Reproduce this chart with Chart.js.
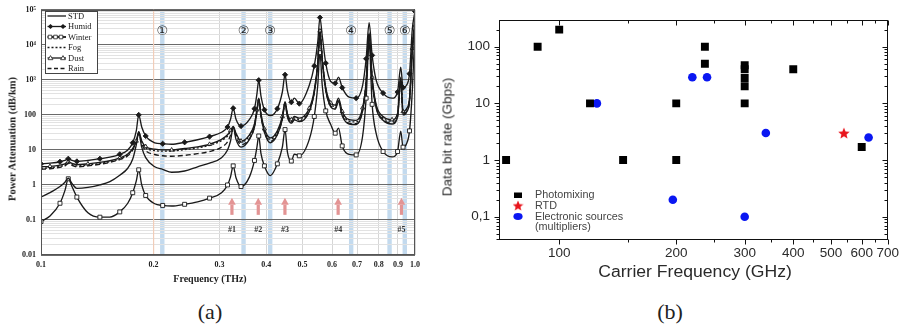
<!DOCTYPE html>
<html><head><meta charset="utf-8">
<script src="https://cdn.jsdelivr.net/npm/chart.js@4.4.1/dist/chart.umd.min.js"></script>
<style>
html,body{margin:0;padding:0;background:#fff;}
body{width:905px;height:327px;position:relative;overflow:hidden;}
#wa{position:absolute;left:0;top:0;width:425px;height:292px;}
#wb{position:absolute;left:430px;top:0;width:475px;height:290px;}
.t{position:absolute;white-space:nowrap;transform:translate(-50%,-50%);line-height:1;}
</style></head><body>
<div id="wa"><canvas id="ca" width="425" height="292"></canvas></div>
<div id="wb"><canvas id="cb" width="475" height="290"></canvas></div>
<div class="t" style="left:12px;top:139px;transform:translate(-50%,-50%) rotate(-90deg);font:bold 10.5px 'Liberation Serif';color:#222">Power Attenuation (dB/km)</div>
<div class="t" style="left:210px;top:278px;font:bold 10px 'Liberation Serif';color:#222">Frequency (THz)</div>
<div class="t" style="left:447px;top:137px;transform:translate(-50%,-50%) rotate(-90deg);font:13.5px 'Liberation Sans';color:#2a2a2a">Data bit rate (Gbps)</div>
<div class="t" style="left:695px;top:272px;transform:translate(-50%,-50%) scaleX(1.1);font:16px 'Liberation Sans';color:#2a2a2a">Carrier Frequency (GHz)</div>
<div class="t" style="left:210px;top:312px;font:22px 'Liberation Serif';color:#222">(a)</div>
<div class="t" style="left:670px;top:312px;font:22px 'Liberation Serif';color:#222">(b)</div>
<script>
// ---------- Panel (a) data ----------
const FREQ_THZ = [0.1000,0.1057,0.1124,0.1159,0.1183,0.1210,0.1247,0.1335,0.1437,0.1528,
  0.1624,0.1706,0.1759,0.1798,0.1825,0.1859,0.1905,0.2014,0.2115,0.2235,
  0.2421,0.2622,0.2823,0.3039,0.3153,0.3212,0.3265,0.3322,0.3426,0.3609,
  0.3722,0.3779,0.3821,0.3873,0.3957,0.4105,0.4285,0.4419,0.4493,0.4557,
  0.4670,0.4757,0.4905,0.5216,0.5379,0.5495,0.5570,0.5649,0.5772,0.5952,
  0.6119,0.6244,0.6388,0.6668,0.6961,0.7244,0.7402,0.7539,0.7680,0.7870,
  0.8216,0.8683,0.8981,0.9160,0.9290,0.9492,0.9668,0.9836,1.0000];
const STD = [0.45,0.6,0.9,1.2,1.55,1.1,0.8,0.85,1.0,1.25,
  1.9,3.0,5.5,14,32,12,6,3.3,2.8,2.3,
  2.5,3.3,4.2,6,10,18,45,20,12,20,
  45,125,275,95,32,16,27,75,215,90,
  58,72,64,125,430,2700,22000,3500,500,170,
  145,240,95,55,53,130,780,19000,950,160,
  70,55,85,950,100,120,245,6800,50000];
const HUMID = [4.0,4.2,4.6,5.0,5.6,5.0,4.7,5.0,5.6,6.2,
  7.5,10,16,35,100,45,25,16,15,14.5,
  16.5,19.5,24,32,45,75,155,75,48,75,
  150,400,980,350,140,95,150,450,1400,500,
  230,300,210,700,2500,12000,60000,18000,3000,900,
  800,1200,600,320,300,700,4000,43000,5000,1000,
  420,300,450,2300,600,700,1500,28000,90000];
const WINTER = [0.09,0.13,0.3,0.7,1.5,0.9,0.45,0.16,0.12,0.12,
  0.17,0.3,0.6,1.3,2.7,1.0,0.5,0.29,0.26,0.25,
  0.28,0.33,0.42,0.6,1.0,1.7,3.5,1.6,0.9,1.7,
  5,12,25,8,3.5,1.85,4,12,38,9,
  4.8,7.6,6.8,20,90,700,6000,700,130,53,
  30,42,13,7.5,7.2,25,300,12000,200,30,
  9,6.3,9,34,12,15,35,500,30000];
const FOG = [3.0,3.1,3.4,3.7,4.3,3.8,3.5,3.7,4.1,4.6,
  5.6,7.2,10.5,17,31,17,11.5,9.6,9.2,9.3,
  10.2,11.4,13.5,18.5,25,34,45,28,17,25,
  52,135,290,105,37,20,32,85,230,100,
  66,82,74,145,470,2900,24000,3800,560,200,
  175,280,115,66,63,150,850,21000,1100,185,
  82,66,100,1100,115,140,280,7500,58000];
const DUST = [3.3,3.4,3.7,4.0,4.6,4.1,3.8,4.0,4.4,4.9,
  5.9,7.6,11,18,33,18,12.5,10.5,10,10,
  11,12.2,14.5,20,27,36,47,30,18,27,
  55,140,300,110,40,22,35,90,240,110,
  73,90,81,155,500,3000,25000,4000,600,220,
  190,300,125,73,70,160,900,22000,1200,200,
  90,73,110,1200,125,150,300,8000,60000];
const RAIN = [2.8,2.9,3.2,3.5,4.1,3.6,3.3,3.5,3.9,4.4,
  5.3,6.8,10,16.5,30,15,9.5,7.4,6.8,6.6,
  7.0,7.8,9.0,12,17,26,42,24,14,21,
  46,125,280,95,33,17.5,28,78,220,92,
  60,74,66,130,440,2800,23000,3600,520,180,
  155,250,100,58,56,135,800,20000,1000,170,
  74,58,90,1000,105,125,255,7000,55000];
const SERIES_NAMES_A = ['STD','Humid','Winter','Fog','Dust','Rain'];
const WINDOW_FREQS = [0.211,0.348,0.41,0.675,0.855,0.939];
const WINDOW_LABELS = ['\u2460','\u2461','\u2462','\u2463','\u2464','\u2465'];
const TX_FREQS = [0.324,0.381,0.449,0.623,0.92];
const TX_LABELS = ['#1','#2','#3','#4','#5'];
const X_TICK_VALUES_A = [0.1,0.2,0.3,0.4,0.5,0.6,0.7,0.8,0.9,1.0];
const X_TICK_LABELS_A = ['0.1','0.2','0.3','0.4','0.5','0.6','0.7','0.8','0.9','1.0'];
const Y_TICK_VALUES_A = [0.01,0.1,1,10,100,1e3,1e4,1e5];
const Y_TICK_LABELS_A = ['0.01','0.1','1','10','100','10\u00B3','10\u2074','10\u2075'];

// ---------- Panel (b) data ----------
const PHOTO_FREQ = [73,88,100,120,146,200,200,237,237,300,300,300,300,300,400,600];
const PHOTO_RATE = [1,100,200,10,1,10,1,100,50,47,40,28,20,10,40,1.7];
const RTD_FREQ = [540];
const RTD_RATE = [3];
const ELEC_FREQ = [125,220,240,340,625,196,300];
const ELEC_RATE = [10,29,29,3,2.5,0.2,0.1];
const X_TICK_VALUES_B = [100,200,300,400,500,600,700];
const X_TICK_LABELS_B = ['100','200','300','400','500','600','700'];
const X_MINOR_B = [150,250,350,450,550,650];
const Y_TICK_VALUES_B = [0.1,1,10,100];
const Y_TICK_LABELS_B = ['0,1','1','10','100'];

// ---------- helpers ----------
function sameLog(a,b){return Math.abs(Math.log10(a)-Math.log10(b))<1e-6;}
function labelFor(v,vals,labels){for(let i=0;i<vals.length;i++){if(sameLog(v,vals[i]))return labels[i];}return '';}
function isDecade(v){const l=Math.log10(v);return Math.abs(l-Math.round(l))<1e-6;}
function logGrid(lo,hi){const out=[];for(let e=lo;e<hi;e++){for(let m=1;m<10;m++){out.push(+(m*Math.pow(10,e)).toPrecision(6));}}out.push(Math.pow(10,hi));return out;}
const every=(n,off,r)=>c=>(c.dataIndex%n===off?r:0);
const INK='#1a1a1a';
function pts(arr){return FREQ_THZ.map((f,i)=>({x:f,y:arr[i]}));}
function ds(label,arr,extra){return Object.assign({label,data:pts(arr),borderColor:INK,borderWidth:1.35,pointRadius:0,fill:false,cubicInterpolationMode:'monotone',pointBorderColor:INK,pointBackgroundColor:INK,pointBorderWidth:0.9},extra||{});}

function drawMarker(ctx,style,x,y,r,filled){
  ctx.beginPath();
  if(style==='diamond'){ctx.moveTo(x,y-r);ctx.lineTo(x+r,y);ctx.lineTo(x,y+r);ctx.lineTo(x-r,y);ctx.closePath();}
  else if(style==='square'){ctx.rect(x-r*0.75,y-r*0.75,r*1.5,r*1.5);}
  else if(style==='triangle'){ctx.moveTo(x,y-r);ctx.lineTo(x+r,y+r*0.7);ctx.lineTo(x-r,y+r*0.7);ctx.closePath();}
  if(filled){ctx.fillStyle=INK;ctx.fill();}else{ctx.fillStyle='#fff';ctx.fill();ctx.lineWidth=0.8;ctx.strokeStyle=INK;ctx.stroke();}
}

const panelA={
  id:'panelA',
  beforeDraw(chart){
    const {ctx,chartArea:a,scales:{x}}=chart;
    ctx.save();
    ctx.fillStyle='#c3daee';
    WINDOW_FREQS.forEach(f=>{const p=x.getPixelForValue(f);ctx.fillRect(p-2.2,a.top,4.4,a.bottom-a.top);});
    ctx.restore();
  },
  beforeDatasetsDraw(chart){
    const {ctx,chartArea:a,scales:{x}}=chart;
    ctx.save();
    ctx.strokeStyle='#f1cdb9';ctx.lineWidth=1.2;
    const p=x.getPixelForValue(0.2);ctx.beginPath();ctx.moveTo(p,a.top);ctx.lineTo(p,a.bottom);ctx.stroke();
    ctx.restore();
  },
  afterDatasetsDraw(chart){
    const {ctx,chartArea:a,scales:{x,y}}=chart;
    ctx.save();
    ctx.strokeStyle='#555';ctx.lineWidth=1;
    ctx.strokeRect(Math.round(a.left)+0.5,Math.round(a.top)+0.5,Math.round(a.right-a.left)-1,Math.round(a.bottom-a.top)-1);
    ctx.fillStyle='#222';ctx.font="13px 'DejaVu Sans'";ctx.textAlign='center';ctx.textBaseline='middle';
    WINDOW_FREQS.forEach((f,i)=>ctx.fillText(WINDOW_LABELS[i],x.getPixelForValue(f),a.top+22));
    const yb=y.getPixelForValue(0.14), yt=y.getPixelForValue(0.43), yh=yt+7;
    ctx.fillStyle='#e39494';
    TX_FREQS.forEach(f=>{const p=x.getPixelForValue(f);
      ctx.fillRect(p-1.6,yh,3.2,yb-yh);
      ctx.beginPath();ctx.moveTo(p-3.8,yh);ctx.lineTo(p+3.8,yh);ctx.lineTo(p,yt);ctx.closePath();ctx.fill();});
    ctx.fillStyle='#333';ctx.font="bold 8px 'Liberation Serif'";
    TX_FREQS.forEach((f,i)=>ctx.fillText(TX_LABELS[i],x.getPixelForValue(f),y.getPixelForValue(0.052)));
    const L={x:45.5,y:11.5,w:52,h:62};
    ctx.fillStyle='#fff';ctx.fillRect(L.x,L.y,L.w,L.h);
    ctx.strokeStyle='#444';ctx.lineWidth=1;ctx.strokeRect(L.x,L.y,L.w,L.h);
    ctx.font="8.5px 'Liberation Serif'";ctx.textAlign='left';ctx.textBaseline='middle';
    SERIES_NAMES_A.forEach((name,i)=>{
      const ry=16+i*10.5;
      ctx.strokeStyle=INK;ctx.lineWidth=(name==='Winter')?1.8:1.3;
      ctx.setLineDash(name==='Fog'?[2,2]:name==='Rain'?[4,2.5]:[]);
      ctx.beginPath();ctx.moveTo(47.5,ry);ctx.lineTo(66,ry);ctx.stroke();ctx.setLineDash([]);
      if(name==='Humid'){drawMarker(ctx,'diamond',50.5,ry,2.6,true);drawMarker(ctx,'diamond',63,ry,2.6,true);}
      if(name==='Winter'){[50,55.5,61].forEach(px=>drawMarker(ctx,'square',px,ry,2.4,false));}
      if(name==='Dust'){drawMarker(ctx,'triangle',50.5,ry,2.4,false);drawMarker(ctx,'triangle',63,ry,2.4,false);}
      ctx.fillStyle='#222';ctx.fillText(name,68,ry+0.5);
    });
    ctx.restore();
  }
};

const fontA={family:'Liberation Serif',size:8,weight:'bold'};
new Chart(document.getElementById('ca'),{
  type:'line',
  data:{datasets:[
    ds('STD',STD),
    ds('Humid',HUMID,{pointStyle:'rectRot',pointRadius:every(2,0,2.6)}),
    ds('Winter',WINTER,{pointStyle:'rect',pointRadius:every(2,0,2.8),pointBackgroundColor:'#fff'}),
    ds('Fog',FOG,{borderDash:[2,2]}),
    ds('Dust',DUST,{pointStyle:'triangle',pointRadius:every(3,1,2.4),pointBackgroundColor:'#fff'}),
    ds('Rain',RAIN,{borderDash:[5,3]})
  ]},
  options:{
    responsive:false,animation:false,events:[],devicePixelRatio:1,
    layout:{padding:{top:7,right:9,left:0,bottom:0},autoPadding:false},
    plugins:{legend:{display:false},tooltip:{enabled:false}},
    scales:{
      x:{type:'logarithmic',min:0.1,max:1.0,
        afterFit:s=>{s.height=37;},
        afterBuildTicks:s=>{s.ticks=X_TICK_VALUES_A.map(v=>({value:v}));},
        grid:{color:'#d6d6d6',lineWidth:1,drawTicks:false},border:{display:false},
        ticks:{autoSkip:false,maxRotation:0,minRotation:0,padding:5,font:fontA,color:'#222',
          callback:v=>labelFor(v,X_TICK_VALUES_A,X_TICK_LABELS_A)}},
      y:{type:'logarithmic',min:0.01,max:1e5,
        afterFit:s=>{s.width=41;},
        afterBuildTicks:s=>{s.ticks=logGrid(-2,5).map(v=>({value:v}));},
        grid:{color:c=>(c.tick&&isDecade(c.tick.value))?'#6a6a6a':'#e2e2e2',lineWidth:1,drawTicks:false},border:{display:false},
        ticks:{autoSkip:false,padding:5,font:fontA,color:'#222',
          callback:v=>labelFor(v,Y_TICK_VALUES_A,Y_TICK_LABELS_A)}}
    }
  },
  plugins:[panelA]
});

// ---------- Panel (b) ----------
function starCanvas(size,color){
  const c=document.createElement('canvas');c.width=c.height=size;const g=c.getContext('2d');
  g.fillStyle=color;g.beginPath();const cx=size/2,cy=size/2+0.6,R=size/2,r=R*0.45;
  for(let i=0;i<10;i++){const ang=-Math.PI/2+i*Math.PI/5;const rr=i%2?r:R;g.lineTo(cx+rr*Math.cos(ang),cy+rr*Math.sin(ang));}
  g.closePath();g.fill();return c;
}
const STAR=starCanvas(12,'#e8141c');
const BLUE='#0a17f2';

const panelB={
  id:'panelB',
  afterDraw(chart){
    const {ctx,chartArea:a,scales:{x,y}}=chart;
    ctx.save();
    ctx.strokeStyle='#111';ctx.lineWidth=1;
    const L=Math.round(a.left)+0.5,R=Math.round(a.right)-0.5,T=Math.round(a.top)+0.5,B=Math.round(a.bottom)+0.5;
    ctx.strokeRect(L,T,R-L,B-T);
    ctx.beginPath();
    const xt=(v,len)=>{const p=Math.round(x.getPixelForValue(v))+0.5;ctx.moveTo(p,B);ctx.lineTo(p,B+len);ctx.moveTo(p,T);ctx.lineTo(p,T+len);};
    X_TICK_VALUES_B.forEach(v=>xt(v,5));X_MINOR_B.forEach(v=>xt(v,3));
    const yt=(v,len)=>{const p=Math.round(y.getPixelForValue(v))+0.5;ctx.moveTo(L,p);ctx.lineTo(L-len,p);ctx.moveTo(R,p);ctx.lineTo(R-len,p);};
    for(let e=-2;e<=2;e++){for(let m=1;m<10;m++){const v=m*Math.pow(10,e);if(v<y.min||v>y.max)continue;yt(v,m===1?5:3);}}
    ctx.stroke();
    ctx.fillStyle='#000';ctx.fillRect(84,192.5,8,5.5);
    ctx.drawImage(STAR,82.5,200,11,11);
    ctx.fillStyle=BLUE;ctx.beginPath();ctx.ellipse(88,216.5,4.6,3.4,0,0,Math.PI*2);ctx.fill();
    ctx.fillStyle='#444';ctx.font="10.8px 'Liberation Sans'";ctx.textAlign='left';ctx.textBaseline='middle';
    ctx.fillText('Photomixing',105,195);
    ctx.fillText('RTD',105,205.7);
    ctx.fillText('Electronic sources',105,216.7);
    ctx.fillText('(multipliers)',105,227);
    ctx.restore();
  }
};

const fontB={family:'Liberation Sans',size:13.5};
new Chart(document.getElementById('cb'),{
  type:'scatter',
  data:{datasets:[
    {label:'Photomixing',data:PHOTO_FREQ.map((f,i)=>({x:f,y:PHOTO_RATE[i]})),pointStyle:'rect',pointRadius:5.6,pointBackgroundColor:'#000',pointBorderColor:'#000',pointBorderWidth:0},
    {label:'RTD',data:RTD_FREQ.map((f,i)=>({x:f,y:RTD_RATE[i]})),pointStyle:STAR,pointRadius:6,pointBorderWidth:0},
    {label:'Electronic sources (multipliers)',data:ELEC_FREQ.map((f,i)=>({x:f,y:ELEC_RATE[i]})),pointStyle:'circle',pointRadius:4.3,pointBackgroundColor:BLUE,pointBorderColor:BLUE,pointBorderWidth:0}
  ]},
  options:{
    responsive:false,animation:false,events:[],devicePixelRatio:1,
    layout:{padding:{top:20,right:10,left:0,bottom:0},autoPadding:false},
    plugins:{legend:{display:false},tooltip:{enabled:false}},
    scales:{
      x:{type:'logarithmic',min:70,max:700,
        afterFit:s=>{s.height=50.7;},
        afterBuildTicks:s=>{s.ticks=X_TICK_VALUES_B.map(v=>({value:v}));},
        grid:{display:false,drawTicks:false},border:{display:false},
        ticks:{autoSkip:false,maxRotation:0,minRotation:0,padding:6,font:fontB,color:'#2a2a2a',
          callback:v=>labelFor(v,X_TICK_VALUES_B,X_TICK_LABELS_B)}},
      y:{type:'logarithmic',min:0.04,max:296,
        afterFit:s=>{s.width=69;},
        afterBuildTicks:s=>{s.ticks=Y_TICK_VALUES_B.map(v=>({value:v}));},
        grid:{display:false,drawTicks:false},border:{display:false},
        ticks:{autoSkip:false,padding:9,font:fontB,color:'#2a2a2a',
          callback:v=>labelFor(v,Y_TICK_VALUES_B,Y_TICK_LABELS_B)}}
    }
  },
  plugins:[panelB]
});
</script>
</body></html>
